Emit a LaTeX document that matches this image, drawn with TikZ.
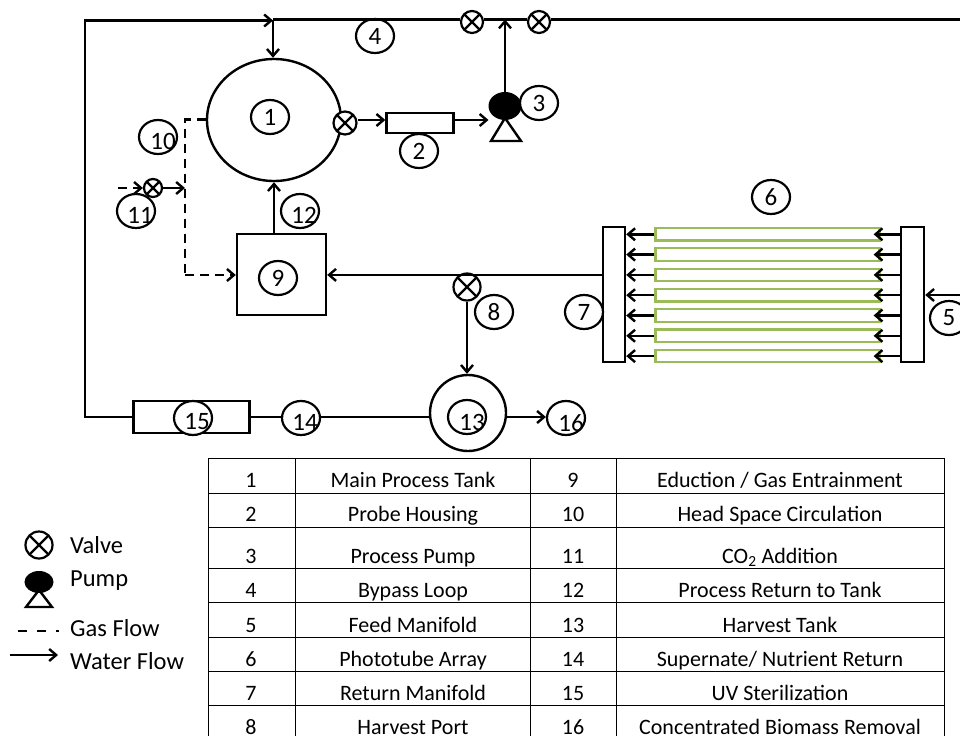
\documentclass[tikz,border=0pt]{standalone}
\usepackage{fontspec}
\setmainfont{Carlito}
\usetikzlibrary{arrows.meta,shapes.geometric}

\tikzset{
    flow/.style={->, line width=2.4pt},
    pipe/.style={line width=2.9pt},
    gas/.style={->, line width=2.4pt, dash pattern=on 9pt off 6pt},
    unit/.style={draw, line width=2.4pt, inner sep=0pt},
    vessel/.style={draw, ellipse, line width=2.4pt, inner sep=0pt},
    tag/.style={draw, ellipse, line width=2.2pt, inner sep=0pt, minimum width=38pt, minimum height=34pt, fill=white},
    tagtext/.style={inner sep=0pt, font=\fontsize{25}{29}\selectfont},
    tube/.style={draw=tubegreen, line width=2.2pt, inner sep=0pt, minimum width=224pt, minimum height=12.5pt},
    valve/.style={draw, circle, line width=2.2pt, inner sep=0pt, minimum size=#1, fill=white,
        path picture={
            \draw[line width=2.2pt] (path picture bounding box.north west) -- (path picture bounding box.south east);
            \draw[line width=2.2pt] (path picture bounding box.south west) -- (path picture bounding box.north east);
        }},
    cell/.style={anchor=base, inner sep=0pt, font=\fontsize{22}{26}\selectfont},
    legend/.style={anchor=base west, inner sep=0pt, font=\fontsize{24.5}{29}\selectfont}
}
\definecolor{tubegreen}{HTML}{9BBB59}

\begin{document}
\begin{tikzpicture}[>={Straight Barb[length=7pt,width=12pt]}, x=1pt, y=-1pt]
    \useasboundingbox[clip] (0,0) rectangle (960,736);

    \node[vessel, minimum width=134pt, minimum height=122pt] (mainTank) at (274,120) {};
    \node[vessel, minimum width=76pt, minimum height=76pt] (harvTank) at (468,413) {};
    \node[unit, minimum width=67pt, minimum height=20pt] (probe) at (420,123) {};
    \node[unit, minimum width=89pt, minimum height=81pt] (educt) at (281.5,274.5) {};
    \node[unit, minimum width=116pt, minimum height=32pt] (uvBox) at (191.5,417) {};
    \node[unit, minimum width=22pt, minimum height=135pt] (retMan) at (614,294.5) {};
    \node[unit, minimum width=23pt, minimum height=135pt] (feedMan) at (912.5,294.5) {};

    \node[valve=23pt] (vMain) at (345,123) {};
    \node[valve=22pt] (vTopA) at (472,22) {};
    \node[valve=22pt] (vTopB) at (539,22) {};
    \node[valve=18pt] (vGas) at (153,188) {};
    \node[valve=27pt] (vHarv) at (467,287) {};

    \node[draw, ellipse, fill=black, line width=1pt, minimum width=32pt, minimum height=27pt, inner sep=0pt] (pump) at (505,106) {};
    \draw[line width=2.4pt, line join=miter] (505,118) -- (491,141) -- (521,141) -- cycle;

    \foreach \n/\cx/\cy/\tx/\ty in {1/270/117/270/117, 2/419/151/419/151, 3/539/103/539/103, 4/375/36/375/36,
        5/949/318/949/318, 6/771/197/771/197, 7/584/312/584/312, 8/494/312/494/312, 9/278/278/278/278,
        10/158/137/163/141, 11/136/211/140/215, 12/300/211/304/215, 13/467/417/472/422,
        14/301/418/305/422, 15/193/418/197/422, 16/566/418/571/423} {
        \node[tag] (tag\n) at (\cx,\cy) {};
        \node[tagtext] (num\n) at (\tx,\ty) {\n};
    }

    \foreach \i in {0,...,6} {
        \node[tube] (tube\i) at (767.5,234.3+20.3*\i) {};
        \draw[flow] (feedMan.west |- tube\i) -- ([xshift=-7pt]tube\i.east);
        \draw[flow] (tube\i.west) -- (retMan.east |- tube\i);
    }

    \coordinate (loopEnd) at (960,19.5);
    \coordinate (tee) at (273,19.5);
    \coordinate (cornerTop) at (85,20.5);
    \coordinate (cornerLow) at (85,417);
    \coordinate (feedIn) at (960,295);
    \coordinate (gasIn) at (118,188);
    \coordinate (gasTop) at (185,119.5);
    \coordinate (gasLow) at (185,275);
    \coordinate (gasJoin) at (185,188);

    \draw[pipe] (tee) -- ([yshift=2.5pt]vTopA.west);
    \draw[pipe] ([yshift=2.5pt]vTopA.east) -- ([yshift=2.5pt]vTopB.west);
    \draw[pipe] ([yshift=2.5pt]vTopB.east) -- (loopEnd);
    \draw[pipe] (uvBox.west |- cornerLow) -- (cornerLow) -- (cornerTop) -- ([xshift=-6pt]tee |- cornerTop);
    \draw[flow] (cornerTop) -- (tee |- cornerTop);
    \draw[flow] (tee) -- (tee |- mainTank.north);
    \draw[flow] ([yshift=3pt]vMain.east) -- ([yshift=3pt]probe.west);
    \draw[flow] ([yshift=3pt]probe.east) -- (pump.west |- 0,120);
    \draw[flow] (pump.north) -- (pump.north |- tee);
    \draw[flow] (educt.north -| mainTank.south) -- (mainTank.south);
    \draw[flow] (retMan.west |- tube2) -- (educt.east |- tube2);
    \draw[flow] (vHarv.south) -- (vHarv.south |- harvTank.north);
    \draw[flow] (feedIn) -- (feedMan.east |- feedIn);
    \draw[pipe] (uvBox.east |- cornerLow) -- (tag14.west |- cornerLow);
    \draw[pipe] (tag14.east |- cornerLow) -- (harvTank.west |- cornerLow);
    \draw[flow] (harvTank.east |- cornerLow) -- (tag16.west |- cornerLow);

    \draw[gas, -] (mainTank.west |- gasTop) -- (gasTop) -- (gasLow);
    \draw[gas] (gasLow) -- (educt.west |- gasLow);
    \draw[gas] (gasIn) -- (vGas.west);
    \draw[flow] (vGas.east) -- (gasJoin);

    \foreach \ly in {458,493,527,568,602,637,671,705} {
        \draw[line width=0.8pt] (208.5,\ly) -- (944,\ly);
    }
    \foreach \lx in {208.5,295,530.5,616.5,944} {
        \draw[line width=0.8pt] (\lx,458) -- (\lx,736);
    }

    \foreach \r/\by/\a/\b/\c/\d in {
        1/487/1/Main Process Tank/9/{Eduction / Gas Entrainment},
        2/521.5/2/Probe Housing/10/Head Space Circulation,
        3/563.5/3/Process Pump/11/{CO\textsubscript{2} Addition},
        4/597/4/Bypass Loop/12/Process Return to Tank,
        5/632/5/Feed Manifold/13/Harvest Tank,
        6/666/6/Phototube Array/14/{Supernate/ Nutrient Return},
        7/700/7/Return Manifold/15/UV Sterilization,
        8/734/8/Harvest Port/16/Concentrated Biomass Removal} {
        \node[cell] (noL\r) at (251,\by) {\a};
        \node[cell] (nameL\r) at (413,\by) {\b};
        \node[cell] (noR\r) at (573,\by) {\c};
        \node[cell] (nameR\r) at (780,\by) {\d};
    }

    \node[valve=27pt] (keyValve) at (39,545) {};
    \node[legend] (keyValveText) at (70,553.5) {Valve};
    \node[draw, ellipse, fill=black, line width=1pt, minimum width=28pt, minimum height=21pt, inner sep=0pt] (keyPump) at (39,582) {};
    \draw[line width=2.4pt, line join=miter] (39,590) -- (26,607) -- (52,607) -- cycle;
    \node[legend] (keyPumpText) at (70,586.5) {Pump};
    \node[legend] (keyGasText) at (70,636.5) {Gas Flow};
    \node[legend] (keyWaterText) at (70,669) {Water Flow};
    \coordinate (keyGasFrom) at (18,631);
    \coordinate (keyWaterFrom) at (10,655);
    \draw[line width=2.4pt, dash pattern=on 9pt off 10pt] (keyGasFrom) -- ([xshift=-11pt]keyGasText.west |- keyGasFrom);
    \draw[flow] (keyWaterFrom) -- ([xshift=-12pt]keyWaterText.west |- keyWaterFrom);
\end{tikzpicture}
\end{document}
